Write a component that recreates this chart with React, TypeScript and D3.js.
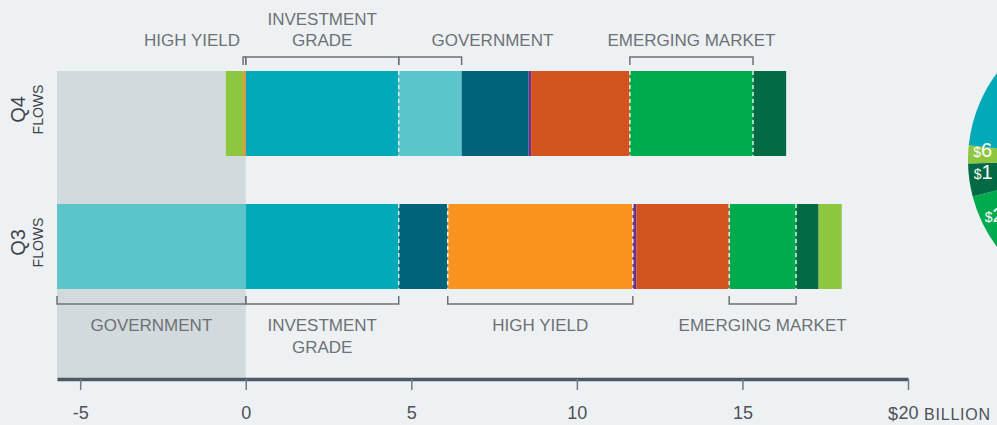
import React, { useEffect, useRef } from "react";
import * as d3 from "d3";

// sectors and their colours
const sectorKeys = ["IG", "GOV", "GOVX", "HY", "BL", "MS", "EM", "EMX", "OTHER"];
const sectorColors = ["#02a9b9", "#5bc5ca", "#006479", "#f7931e", "#6b2e8f", "#d2531e", "#00ab4e", "#006a45", "#8dc63f"];

const rows = ["Q4", "Q3"];

// flows in $ billions, left to right
const q4Sectors = ["OTHER", "HY", "IG", "GOV", "GOVX", "BL", "MS", "EM", "EMX"];
const q4Values = [-0.52, -0.08, 4.62, 1.9, 2.02, 0.08, 2.98, 3.72, 1.0];
const q3Sectors = ["GOV", "IG", "GOVX", "HY", "BL", "MS", "EM", "EMX", "OTHER"];
const q3Values = [-5.7, 4.62, 1.48, 5.59, 0.11, 2.8, 2.02, 0.68, 0.7];

// dashed divider after these segments
const q4DashedAfter = [2, 6, 7];
const q3DashedAfter = [1, 2, 3, 5, 6];

// bracket annotations (segment index, label lines, optional label value / anchor)
const q4Brackets = [
  { seg: 1, lines: ["HIGH YIELD"], at: -0.17, anchor: "end" },
  { seg: 2, lines: ["INVESTMENT", "GRADE"] },
  { seg: 3, lines: ["GOVERNMENT"], at: 7.45 },
  { seg: 7, lines: ["EMERGING MARKET"] },
];
const q3Brackets = [
  { seg: 0, lines: ["GOVERNMENT"] },
  { seg: 1, lines: ["INVESTMENT", "GRADE"] },
  { seg: 3, lines: ["HIGH YIELD"] },
  { seg: 6, lines: ["EMERGING MARKET"] },
];

const xTicks = [-5, 0, 5, 10, 15, 20];

// pie on the right (mostly outside the frame)
const pieSectors = ["EM", "EMX", "OTHER", "IG", "GOV", "GOVX", "HY"];
const pieValues = [25, 11, 6, 120, 55, 45, 38];
const pieLabels = ["25", "1", "6", "", "", "", ""];

const W = 997;
const H = 425;
const FONT = "'Liberation Sans', Arial, sans-serif";
const colorOf = d3.scaleOrdinal<string, string>().domain(sectorKeys).range(sectorColors);

const x = d3.scaleLinear().domain([-5.7, 20]).range([57, 908]);
const y = d3.scaleBand().domain(rows).range([71, 289]).paddingInner(0.361).paddingOuter(0);

function stack(sectors: string[], values: number[]) {
  let pos = d3.sum(values.filter((v) => v < 0));
  return values.map((v, i) => {
    const s = { sector: sectors[i], x0: pos, x1: pos + Math.abs(v) };
    pos += Math.abs(v);
    return s;
  });
}

const rowData = [
  { key: "Q4", segs: stack(q4Sectors, q4Values), dashed: q4DashedAfter, brackets: q4Brackets, top: true },
  { key: "Q3", segs: stack(q3Sectors, q3Values), dashed: q3DashedAfter, brackets: q3Brackets, top: false },
];

const App = () => {
  const axisRef = useRef<SVGGElement>(null);

  useEffect(() => {
    const g = d3.select(axisRef.current);
    g.selectAll("*").remove();
    g.call(
      d3
        .axisBottom(x)
        .tickValues(xTicks)
        .tickSizeOuter(0)
        .tickSizeInner(11)
        .tickFormat((d) => String(d))
    );
    g.select(".domain").attr("stroke", "#4b5a64").attr("stroke-width", 3.5);
    g.selectAll(".tick line").attr("stroke", "#6f7b83").attr("stroke-width", 1.5);
    g.selectAll(".tick text")
      .attr("y", 27)
      .attr("fill", "#4d5257")
      .style("font-family", FONT)
      .style("font-size", "18px");
  }, []);

  const pie = d3
    .pie<number>()
    .sort(null)
    .startAngle((225.4 * Math.PI) / 180)
    .endAngle((225.4 * Math.PI) / 180 + 2 * Math.PI);
  const arcs = pie(pieValues);
  const arc = d3.arc<d3.PieArcDatum<number>>().innerRadius(0).outerRadius(145);

  const bh = y.bandwidth();

  return (
    <svg width={W} height={H} style={{ position: "absolute", left: 0, top: 0, background: "#edf1f4" }}>
      {/* negative zone */}
      <rect x={x(-5.7)} y={y("Q4")} width={x(0) - x(-5.7)} height={379 - (y("Q4") as number)} fill="#d3dadd" />

      {/* pie */}
      <g transform="translate(1113,160)">
        {arcs.map((a, i) => (
          <path key={i} d={arc(a) as string} fill={colorOf(pieSectors[i])} />
        ))}
        {arcs.map((a, i) => {
          if (!pieLabels[i]) return null;
          const ang = a.startAngle + 0.7 * (a.endAngle - a.startAngle);
          const lx = 140 * Math.sin(ang);
          const ly = -140 * Math.cos(ang);
          return (
            <text key={"l" + i} x={lx} y={ly} dy="0.35em" fill="#fff" style={{ fontFamily: FONT }}>
              <tspan fontSize={14}>$</tspan>
              <tspan fontSize={20}>{pieLabels[i]}</tspan>
            </text>
          );
        })}
      </g>

      {rowData.map((r) => {
        const y0 = y(r.key) as number;
        const cy = y0 + bh / 2;
        return (
          <g key={r.key}>
            {r.segs.map((s, i) => (
              <rect key={i} x={x(s.x0)} y={y0} width={x(s.x1) - x(s.x0)} height={bh} fill={colorOf(s.sector)} />
            ))}
            {r.dashed.map((i) => (
              <line
                key={"d" + i}
                x1={x(r.segs[i].x1)}
                x2={x(r.segs[i].x1)}
                y1={y0}
                y2={y0 + bh}
                stroke="#fff"
                strokeWidth={1.5}
                strokeDasharray="4 3"
                opacity={0.85}
              />
            ))}
            {r.brackets.map((b, i) => {
              const s = r.segs[b.seg];
              const xa = x(s.x0);
              const xb = x(s.x1);
              const ly = r.top ? y0 - 14 : y0 + bh + 15;
              const ty = r.top ? y0 - 6 : y0 + bh + 7;
              const lx = b.at !== undefined ? x(b.at) : (xa + xb) / 2;
              const anchor = (b as any).anchor || "middle";
              const n = b.lines.length;
              return (
                <g key={"b" + i}>
                  <path
                    d={`M${xa},${ty}V${ly}H${xb}V${ty}`}
                    fill="none"
                    stroke="#6d7276"
                    strokeWidth={1.5}
                  />
                  {b.lines.map((t, j) => (
                    <text
                      key={j}
                      x={lx}
                      y={r.top ? y0 - 25 - (n - 1 - j) * 21.5 : y0 + bh + 42 + j * 21.5}
                      textAnchor={anchor}
                      fill="#6d7175"
                      style={{ fontFamily: FONT, fontSize: 17 }}
                    >
                      {t}
                    </text>
                  ))}
                </g>
              );
            })}
            <g transform={`translate(0,${cy - 4}) rotate(-90)`} style={{ fontFamily: FONT }} fill="#3f4347">
              <text x={0} y={25} textAnchor="middle" fontSize={20}>
                {r.key}
              </text>
              <text x={0} y={43} textAnchor="middle" fontSize={14}>
                FLOWS
              </text>
            </g>
          </g>
        );
      })}

      <g ref={axisRef} transform="translate(0,379)" />
      <text x={x(20) - 10} y={420} textAnchor="end" fill="#4d5257" style={{ fontFamily: FONT, fontSize: 18 }}>
        $
      </text>
      <text x={x(20) + 16} y={420} fill="#4d5257" style={{ fontFamily: FONT, fontSize: 16, letterSpacing: 0.8 }}>
        BILLION
      </text>
    </svg>
  );
};

export default App;
